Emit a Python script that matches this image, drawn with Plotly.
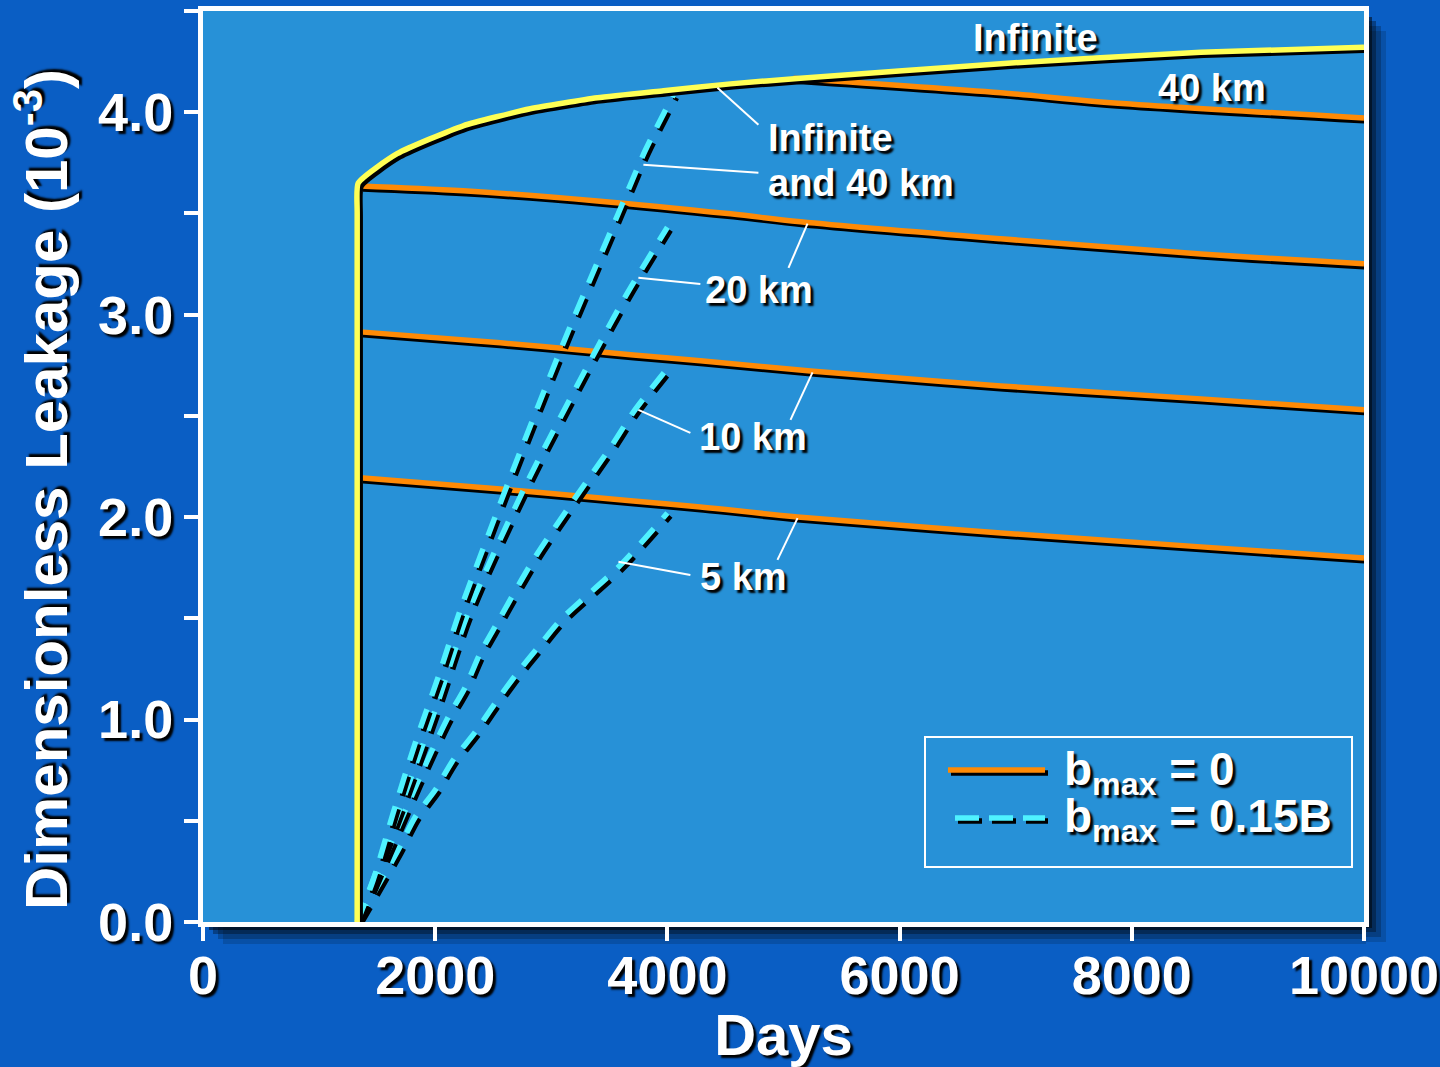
import plotly.graph_objects as go

# ---------------- data (days, dimensionless leakage x 1e-3) ----------------
# Infinite aquifer, bmax = 0 (vertical rise at injection start, then slow growth)
inf_days = [1328, 1328, 1337, 1672, 2241, 2819, 3397, 3966, 4543, 5147, 6871, 8595, 10000]
inf_leak = [0.0, 3.50, 3.650, 3.795, 3.933, 4.017, 4.071, 4.106, 4.140, 4.168, 4.240, 4.296, 4.321]

# Bounded aquifers, bmax = 0
km40_days = [5086, 6871, 7733, 10000]
km40_leak = [4.168, 4.096, 4.051, 3.972]

km20_days = [1353, 2241, 3397, 4543, 5147, 6871, 8595, 10000]
km20_leak = [3.636, 3.612, 3.562, 3.498, 3.459, 3.375, 3.300, 3.251]

km10_days = [1353, 2560, 3707, 4284, 5233, 6871, 8595, 10000]
km10_leak = [2.915, 2.861, 2.801, 2.772, 2.722, 2.648, 2.584, 2.530]

km5_days = [1353, 2560, 3707, 4284, 5121, 6871, 8595, 10000]
km5_leak = [2.194, 2.139, 2.080, 2.050, 2.001, 1.922, 1.853, 1.798]

# bmax = 0.15B
b_inf40_days = [1328, 1466, 1638, 1828, 2026, 2216, 2431, 2647, 3103, 3578, 3810, 4052]
b_inf40_leak = [0.0, 0.207, 0.538, 0.884, 1.210, 1.541, 1.872, 2.198, 2.859, 3.501, 3.812, 4.086]

b_20_days = [1328, 1681, 2000, 2293, 2793, 3362, 3655, 4000]
b_20_leak = [0.0, 0.538, 1.047, 1.541, 2.173, 2.800, 3.106, 3.432]

b_10_days = [1328, 1845, 1974, 2112, 2259, 2388, 2534, 2845, 3181, 3534, 3707, 4043]
b_10_leak = [0.0, 0.686, 0.849, 1.012, 1.160, 1.328, 1.477, 1.788, 2.074, 2.365, 2.519, 2.765]

b_5_days = [1328, 1681, 1828, 2000, 2155, 2345, 2517, 2707, 2888, 3078, 3595, 4000]
b_5_leak = [0.0, 0.356, 0.519, 0.652, 0.800, 0.938, 1.081, 1.230, 1.358, 1.491, 1.763, 2.020]

# axis ticks
x_ticks = [0, 2000, 4000, 6000, 8000, 10000]
x_tick_text = ["0", "2000", "4000", "6000", "8000", "10000"]
y_ticks = [0.0, 1.0, 2.0, 3.0, 4.0]
y_tick_text = ["0.0", "1.0", "2.0", "3.0", "4.0"]
y_minor_ticks = [0.5, 1.5, 2.5, 3.5, 4.5]

# curve labels: text, anchor (days, leakage), leader segments
curve_labels = [
    ("Infinite", (6612, 4.368), []),
    ("40 km", (8207, 4.120), []),
    ("Infinite", (4845, 3.873), [((4784, 3.938), (4431, 4.121))]),
    ("and 40 km", (4845, 3.651), [((4784, 3.701), (3793, 3.740))]),
    ("20 km", (4310, 3.122), [((5043, 3.231), (5207, 3.450)), ((4284, 3.152), (3750, 3.182))]),
    ("10 km", (4259, 2.396), [((5060, 2.480), (5250, 2.715)), ((4198, 2.416), (3750, 2.530))]),
    ("5 km", (4267, 1.705), [((4948, 1.789), (5121, 1.995)), ((4198, 1.714), (3578, 1.779))]),
]

# ---------------- styling ----------------
W, H = 1440, 1067
ML, MR, MT, MB = 203, 76, 11, 145
X_RANGE = [0, 10000]
Y_RANGE = [0, 4.5]
PLOT_W = W - ML - MR
PLOT_H = H - MT - MB

PAGE_BG = "#0A5EC4"
PLOT_BG = "#2791D7"
YELLOW = "#FFFF55"
ORANGE = "#FF8A05"
CYAN = "#4FF2FF"
FONT = "Liberation Sans"
SHADOW = "3px 3px 2px #000000"

# drop-shadow offset of the curves, in data units
SH_PX = 3
DX = SH_PX * (X_RANGE[1] - X_RANGE[0]) / PLOT_W
DY = SH_PX * (Y_RANGE[1] - Y_RANGE[0]) / PLOT_H


def px_x(px):
    return (px - ML) / PLOT_W


def px_y(py):
    return (H - MB - py) / PLOT_H


fig = go.Figure()


def add_curve(xs, ys, color, width=5.5, dash="solid", smooth=0.6):
    fig.add_trace(go.Scatter(
        x=[v + DX for v in xs], y=[v - DY for v in ys], mode="lines",
        line=dict(color="#000000", width=width, dash=dash, shape="spline", smoothing=smooth),
        hoverinfo="skip", showlegend=False))
    fig.add_trace(go.Scatter(
        x=xs, y=ys, mode="lines",
        line=dict(color=color, width=width, dash=dash, shape="spline", smoothing=smooth),
        showlegend=False))


DASH = "20px,14px"

for xs, ys in [(km40_days, km40_leak), (km20_days, km20_leak),
               (km10_days, km10_leak), (km5_days, km5_leak)]:
    add_curve(xs, ys, ORANGE, smooth=1.0)

for xs, ys in [(b_5_days, b_5_leak), (b_10_days, b_10_leak),
               (b_20_days, b_20_leak), (b_inf40_days, b_inf40_leak)]:
    add_curve(xs, ys, CYAN, dash=DASH, smooth=0.8)

add_curve(inf_days, inf_leak, YELLOW, smooth=0.5)

# leader lines from labels to curves
for _, _, segs in curve_labels:
    for (x0, y0), (x1, y1) in segs:
        fig.add_trace(go.Scatter(
            x=[x0, x1], y=[y0, y1], mode="lines",
            line=dict(color="#FFFFFF", width=2),
            hoverinfo="skip", showlegend=False))

label_font = dict(family=FONT, size=38, color="#FFFFFF", weight="bold", shadow=SHADOW)
annotations = []
for text, (lx, ly), _ in curve_labels:
    annotations.append(dict(
        x=lx, y=ly, xref="x", yref="y", text=text, showarrow=False,
        xanchor="left", yanchor="middle", font=label_font))

# y-axis title
annotations.append(dict(
    x=px_x(42), y=px_y(490), xref="paper", yref="paper",
    text="Dimensionless Leakage (10<sup>-3</sup>)", textangle=-90, showarrow=False,
    xanchor="center", yanchor="middle",
    font=dict(family=FONT, size=60, color="#FFFFFF", weight="bold", shadow=SHADOW)))

# legend entries
legend_font = dict(family=FONT, size=46, color="#FFFFFF", weight="bold", shadow=SHADOW)
annotations.append(dict(
    x=px_x(1062), y=px_y(772), xref="paper", yref="paper",
    text="b<sub>max</sub> = 0", showarrow=False, xanchor="left", yanchor="middle",
    font=legend_font))
annotations.append(dict(
    x=px_x(1062), y=px_y(819), xref="paper", yref="paper",
    text="b<sub>max</sub> = 0.15B", showarrow=False, xanchor="left", yanchor="middle",
    font=legend_font))

shapes = []
# soft drop shadow of the plot frame (right and bottom strips)
for k, op in [(20, 0.15), (15, 0.22), (10, 0.32), (6, 0.5)]:
    shapes.append(dict(type="rect", xref="paper", yref="paper", layer="below",
                       x0=px_x(W - MR + 2), x1=px_x(W - MR + 2 + k),
                       y0=px_y(H - MB + k), y1=px_y(MT + k),
                       fillcolor="#000000", opacity=op, line=dict(width=0)))
    shapes.append(dict(type="rect", xref="paper", yref="paper", layer="below",
                       x0=px_x(ML + k), x1=px_x(W - MR + 2),
                       y0=px_y(H - MB + 2 + k), y1=px_y(H - MB + 2),
                       fillcolor="#000000", opacity=op, line=dict(width=0)))

# legend box
shapes.append(dict(type="rect", xref="paper", yref="paper",
                   x0=px_x(925), x1=px_x(1352), y0=px_y(867), y1=px_y(737),
                   line=dict(color="#FFFFFF", width=2), fillcolor="rgba(0,0,0,0)"))
# legend samples with their shadows
for color, py, x0, dash in [(ORANGE, 770, 948, "solid"), (CYAN, 818, 955, "24px,10px")]:
    shapes.append(dict(type="line", xref="paper", yref="paper",
                       x0=px_x(x0 + 3), x1=px_x(1048), y0=px_y(py + 3), y1=px_y(py + 3),
                       line=dict(color="#000000", width=5.5, dash=dash)))
    shapes.append(dict(type="line", xref="paper", yref="paper",
                       x0=px_x(x0), x1=px_x(1045), y0=px_y(py), y1=px_y(py),
                       line=dict(color=color, width=5.5, dash=dash)))

tick_font = dict(family=FONT, size=54, color="#FFFFFF", weight="bold", shadow=SHADOW)
axis_common = dict(
    showline=True, linecolor="#FFFFFF", linewidth=5, mirror=True,
    ticks="outside", ticklen=14, tickwidth=4, tickcolor="#FFFFFF",
    showgrid=False, zeroline=False, tickfont=tick_font, fixedrange=True,
    automargin=False,
)

fig.update_layout(
    width=W, height=H,
    margin=dict(l=ML, r=MR, t=MT, b=MB),
    paper_bgcolor=PAGE_BG, plot_bgcolor=PLOT_BG,
    showlegend=False,
    xaxis=dict(range=X_RANGE, tickmode="array", tickvals=x_ticks, ticktext=x_tick_text,
               ticklabelstandoff=-12,
               title=dict(text="Days", standoff=14,
                          font=dict(family=FONT, size=58, color="#FFFFFF", weight="bold",
                                    shadow=SHADOW)),
               **axis_common),
    yaxis=dict(range=Y_RANGE, tickmode="array", tickvals=y_ticks, ticktext=y_tick_text,
               minor=dict(tickmode="array", tickvals=y_minor_ticks, ticks="outside",
                          ticklen=14, tickwidth=4, tickcolor="#FFFFFF", showgrid=False),
               **axis_common),
    annotations=annotations,
    shapes=shapes,
)

fig.write_html("out.html")
